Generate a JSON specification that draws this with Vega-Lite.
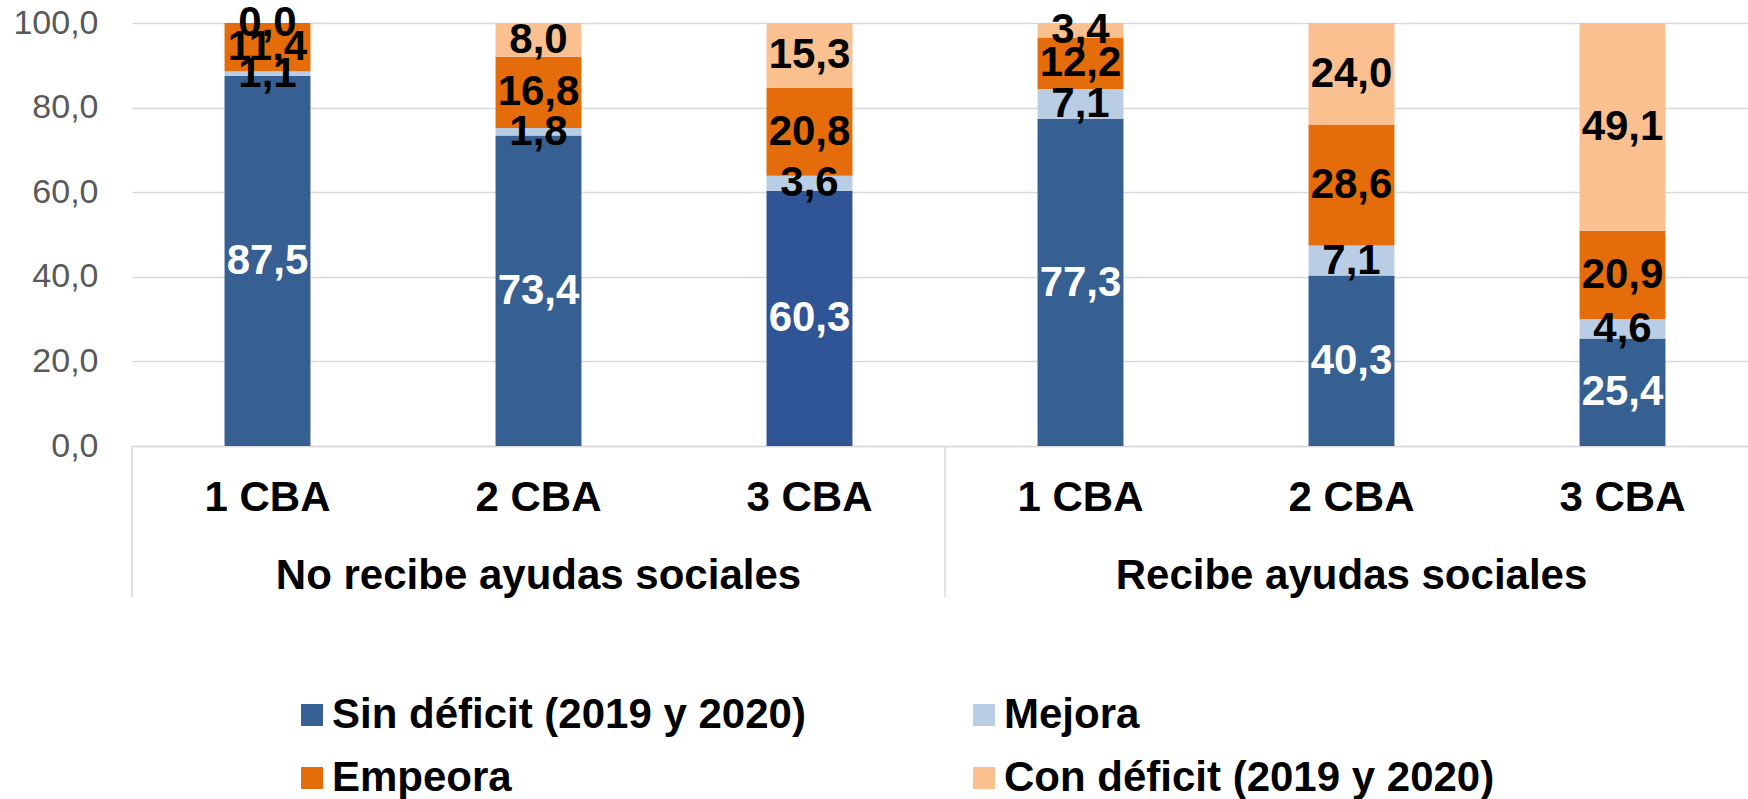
{
  "$schema": "https://vega.github.io/schema/vega-lite/v6.json",
  "autosize": "none",
  "width": 1616,
  "height": 423,
  "padding": {"left": 132, "top": 23, "right": 0, "bottom": 353},
  "background": "white",
  "config": {
    "view": {"stroke": null},
    "locale": {"number": {"decimal": ",", "thousands": ".", "grouping": [3], "currency": ["", " €"]}},
    "font": "Liberation Sans"
  },
  "datasets": {
    "segmentos": [
      {"id": "No:1 CBA", "categoria": "Sin déficit (2019 y 2020)", "orden": 1, "valor": 87.5},
      {"id": "No:1 CBA", "categoria": "Mejora", "orden": 2, "valor": 1.1},
      {"id": "No:1 CBA", "categoria": "Empeora", "orden": 3, "valor": 11.4},
      {"id": "No:1 CBA", "categoria": "Con déficit (2019 y 2020)", "orden": 4, "valor": 0.0},
      {"id": "No:2 CBA", "categoria": "Sin déficit (2019 y 2020)", "orden": 1, "valor": 73.4},
      {"id": "No:2 CBA", "categoria": "Mejora", "orden": 2, "valor": 1.8},
      {"id": "No:2 CBA", "categoria": "Empeora", "orden": 3, "valor": 16.8},
      {"id": "No:2 CBA", "categoria": "Con déficit (2019 y 2020)", "orden": 4, "valor": 8.0},
      {"id": "No:3 CBA", "categoria": "Sin déficit (2019 y 2020)", "orden": 1, "valor": 60.3},
      {"id": "No:3 CBA", "categoria": "Mejora", "orden": 2, "valor": 3.6},
      {"id": "No:3 CBA", "categoria": "Empeora", "orden": 3, "valor": 20.8},
      {"id": "No:3 CBA", "categoria": "Con déficit (2019 y 2020)", "orden": 4, "valor": 15.3},
      {"id": "Si:1 CBA", "categoria": "Sin déficit (2019 y 2020)", "orden": 1, "valor": 77.3},
      {"id": "Si:1 CBA", "categoria": "Mejora", "orden": 2, "valor": 7.1},
      {"id": "Si:1 CBA", "categoria": "Empeora", "orden": 3, "valor": 12.2},
      {"id": "Si:1 CBA", "categoria": "Con déficit (2019 y 2020)", "orden": 4, "valor": 3.4},
      {"id": "Si:2 CBA", "categoria": "Sin déficit (2019 y 2020)", "orden": 1, "valor": 40.3},
      {"id": "Si:2 CBA", "categoria": "Mejora", "orden": 2, "valor": 7.1},
      {"id": "Si:2 CBA", "categoria": "Empeora", "orden": 3, "valor": 28.6},
      {"id": "Si:2 CBA", "categoria": "Con déficit (2019 y 2020)", "orden": 4, "valor": 24.0},
      {"id": "Si:3 CBA", "categoria": "Sin déficit (2019 y 2020)", "orden": 1, "valor": 25.4},
      {"id": "Si:3 CBA", "categoria": "Mejora", "orden": 2, "valor": 4.6},
      {"id": "Si:3 CBA", "categoria": "Empeora", "orden": 3, "valor": 20.9},
      {"id": "Si:3 CBA", "categoria": "Con déficit (2019 y 2020)", "orden": 4, "valor": 49.1}
    ]
  },
  "layer": [
    {
      "data": {"name": "segmentos"},
      "mark": {"type": "bar", "width": {"band": 0.317}},
      "encoding": {
        "x": {
          "field": "id", "type": "nominal",
          "scale": {"domain": ["No:1 CBA", "No:2 CBA", "No:3 CBA", "Si:1 CBA", "Si:2 CBA", "Si:3 CBA"], "paddingInner": 0, "paddingOuter": 0, "rangeMax": 1626},
          "axis": {"title": null, "labelExpr": "substring(datum.label, 3)", "labelAngle": 0, "labelFontSize": 42, "labelFontWeight": "bold", "labelColor": "black", "labelFont": "Liberation Sans", "labelBaseline": "top", "labelPadding": 31, "ticks": false, "tickSize": 0, "domainColor": "#d9d9d9", "domainWidth": 1.5, "grid": false, "labelLimit": 0}
        },
        "y": {
          "field": "valor", "type": "quantitative", "stack": "zero",
          "scale": {"domain": [0, 100], "nice": false, "zero": true},
          "axis": {"title": null, "values": [0, 20, 40, 60, 80, 100], "format": ".1f", "labelFontSize": 34, "labelColor": "#595959", "labelFont": "Liberation Sans", "labelPadding": 34, "ticks": false, "tickSize": 0, "domain": false, "grid": true, "gridColor": "#d9d9d9", "gridWidth": 1.5}
        },
        "order": {"field": "orden", "type": "quantitative"},
        "color": {
          "field": "categoria", "type": "nominal",
          "condition": {"test": "datum.id == 'No:3 CBA' && datum.orden == 1", "value": "#2F5597"},
          "scale": {
            "domain": ["Sin déficit (2019 y 2020)", "Mejora", "Empeora", "Con déficit (2019 y 2020)"],
            "range": ["#376092", "#B9CDE5", "#E46C0A", "#FAC090"]
          },
          "legend": {
            "title": null, "orient": "none", "legendX": 159, "legendY": 671, "direction": "horizontal", "columns": 2,
            "columnPadding": 157, "rowPadding": 21, "padding": 0,
            "symbolType": "square", "symbolSize": 484, "symbolStrokeWidth": 0, "symbolOpacity": 1,
            "labelFontSize": 42, "labelFontWeight": "bold", "labelColor": "black", "labelFont": "Liberation Sans",
            "labelOffset": -1, "labelLimit": 0
          }
        }
      }
    },
    {
      "data": {"name": "segmentos"},
      "transform": [
        {"stack": "valor", "groupby": ["id"], "sort": [{"field": "orden", "order": "ascending"}], "as": ["y0", "y1"]},
        {"calculate": "(datum.y0 + datum.y1) / 2", "as": "mid"}
      ],
      "mark": {"type": "text", "fontSize": 42, "fontWeight": "bold", "font": "Liberation Sans", "baseline": "middle", "align": "center"},
      "encoding": {
        "x": {
          "field": "id", "type": "nominal",
          "scale": {"domain": ["No:1 CBA", "No:2 CBA", "No:3 CBA", "Si:1 CBA", "Si:2 CBA", "Si:3 CBA"], "paddingInner": 0, "paddingOuter": 0, "rangeMax": 1626},
          "axis": {"title": null, "labelExpr": "substring(datum.label, 3)", "labelAngle": 0, "labelFontSize": 42, "labelFontWeight": "bold", "labelColor": "black", "labelFont": "Liberation Sans", "labelBaseline": "top", "labelPadding": 31, "ticks": false, "tickSize": 0, "domainColor": "#d9d9d9", "domainWidth": 1.5, "grid": false, "labelLimit": 0}
        },
        "y": {
          "field": "mid", "type": "quantitative",
          "scale": {"domain": [0, 100], "nice": false, "zero": true},
          "axis": {"title": null, "values": [0, 20, 40, 60, 80, 100], "format": ".1f", "labelFontSize": 34, "labelColor": "#595959", "labelFont": "Liberation Sans", "labelPadding": 34, "ticks": false, "tickSize": 0, "domain": false, "grid": true, "gridColor": "#d9d9d9", "gridWidth": 1.5}
        },
        "text": {"field": "valor", "type": "quantitative", "format": ".1f"},
        "color": {"condition": {"test": "datum.orden == 1", "value": "white"}, "value": "black"}
      }
    },
    {
      "data": {"values": [{"id": "No:1 CBA"}, {"id": "Si:1 CBA"}]},
      "mark": {"type": "rule", "color": "#d9d9d9", "strokeWidth": 1.5},
      "encoding": {
        "x": {
          "field": "id", "type": "nominal", "bandPosition": 0,
          "scale": {"domain": ["No:1 CBA", "No:2 CBA", "No:3 CBA", "Si:1 CBA", "Si:2 CBA", "Si:3 CBA"], "paddingInner": 0, "paddingOuter": 0, "rangeMax": 1626},
          "axis": {"title": null, "labelExpr": "substring(datum.label, 3)", "labelAngle": 0, "labelFontSize": 42, "labelFontWeight": "bold", "labelColor": "black", "labelFont": "Liberation Sans", "labelBaseline": "top", "labelPadding": 31, "ticks": false, "tickSize": 0, "domainColor": "#d9d9d9", "domainWidth": 1.5, "grid": false, "labelLimit": 0}
        },
        "y": {"datum": 0, "type": "quantitative", "scale": {"domain": [0, 100], "nice": false, "zero": true},
          "axis": {"title": null, "values": [0, 20, 40, 60, 80, 100], "format": ".1f", "labelFontSize": 34, "labelColor": "#595959", "labelFont": "Liberation Sans", "labelPadding": 34, "ticks": false, "tickSize": 0, "domain": false, "grid": true, "gridColor": "#d9d9d9", "gridWidth": 1.5}},
        "y2": {"datum": -35.7}
      }
    },
    {
      "data": {"values": [{"id": "No:2 CBA", "grupo": "No recibe ayudas sociales"}, {"id": "Si:2 CBA", "grupo": "Recibe ayudas sociales"}]},
      "mark": {"type": "text", "fontSize": 42, "fontWeight": "bold", "font": "Liberation Sans", "baseline": "alphabetic", "align": "center", "color": "black"},
      "encoding": {
        "x": {
          "field": "id", "type": "nominal",
          "scale": {"domain": ["No:1 CBA", "No:2 CBA", "No:3 CBA", "Si:1 CBA", "Si:2 CBA", "Si:3 CBA"], "paddingInner": 0, "paddingOuter": 0, "rangeMax": 1626},
          "axis": {"title": null, "labelExpr": "substring(datum.label, 3)", "labelAngle": 0, "labelFontSize": 42, "labelFontWeight": "bold", "labelColor": "black", "labelFont": "Liberation Sans", "labelBaseline": "top", "labelPadding": 31, "ticks": false, "tickSize": 0, "domainColor": "#d9d9d9", "domainWidth": 1.5, "grid": false, "labelLimit": 0}
        },
        "y": {"datum": -33.8, "type": "quantitative", "scale": {"domain": [0, 100], "nice": false, "zero": true},
          "axis": {"title": null, "values": [0, 20, 40, 60, 80, 100], "format": ".1f", "labelFontSize": 34, "labelColor": "#595959", "labelFont": "Liberation Sans", "labelPadding": 34, "ticks": false, "tickSize": 0, "domain": false, "grid": true, "gridColor": "#d9d9d9", "gridWidth": 1.5}},
        "text": {"field": "grupo", "type": "nominal"}
      }
    }
  ]
}
